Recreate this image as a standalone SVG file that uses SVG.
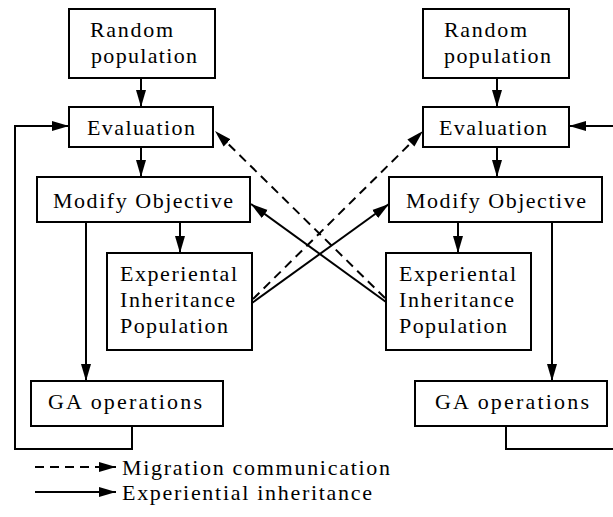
<svg xmlns="http://www.w3.org/2000/svg" width="613" height="517" viewBox="0 0 613 517">
<style>
.box{fill:#fff;stroke:#000;stroke-width:2}
.t{font-family:"Liberation Serif","Times New Roman",serif;font-size:22px;fill:#000}
.ln{fill:none;stroke:#000;stroke-width:2}
.ds{fill:none;stroke:#000;stroke-width:2;stroke-dasharray:9 6}
</style>
<defs>
<marker id="ah" markerUnits="userSpaceOnUse" markerWidth="18" markerHeight="11" refX="17" refY="5.5" orient="auto">
<path d="M0,0.5 L17,5.5 L0,10.5 z" fill="#000"/>
</marker>
</defs>
<rect width="613" height="517" fill="#fff"/>
<g id="connectors">
<line class="ln" x1="141" y1="78" x2="141" y2="107" marker-end="url(#ah)"/>
<line class="ln" x1="141" y1="147" x2="141" y2="177" marker-end="url(#ah)"/>
<line class="ln" x1="180" y1="222" x2="180" y2="253" marker-end="url(#ah)"/>
<line class="ln" x1="86" y1="222" x2="86" y2="381" marker-end="url(#ah)"/>
<polyline class="ln" points="132,426 132,449 15,449 15,126 69,126" marker-end="url(#ah)"/>
<line class="ln" x1="497" y1="78" x2="497" y2="107" marker-end="url(#ah)"/>
<line class="ln" x1="497" y1="147" x2="497" y2="177" marker-end="url(#ah)"/>
<line class="ln" x1="458" y1="222" x2="458" y2="253" marker-end="url(#ah)"/>
<line class="ln" x1="552" y1="222" x2="552" y2="381" marker-end="url(#ah)"/>
<polyline class="ln" points="506,426 506,449 614,449"/>
<line class="ln" x1="614" y1="126" x2="569" y2="126" marker-end="url(#ah)"/>
<line class="ds" x1="385" y1="298" x2="215" y2="131" marker-end="url(#ah)"/>
<line class="ln" x1="386" y1="302" x2="251" y2="204" marker-end="url(#ah)"/>
<line class="ds" x1="253" y1="299" x2="423" y2="131" marker-end="url(#ah)"/>
<line class="ln" x1="252" y1="303" x2="389" y2="204" marker-end="url(#ah)"/>
<line class="ds" x1="35" y1="467" x2="116" y2="467" marker-end="url(#ah)"/>
<line class="ln" x1="35" y1="492" x2="116" y2="492" marker-end="url(#ah)"/>
</g>
<g id="l-random"><rect class="box" x="69" y="9" width="146" height="69"/>
<text class="t" x="90" y="37" textLength="83" lengthAdjust="spacing">Random</text>
<text class="t" x="91" y="63" textLength="106" lengthAdjust="spacing">population</text></g>
<g id="l-eval"><rect class="box" x="69" y="107" width="144" height="40"/>
<text class="t" x="87" y="135" textLength="108" lengthAdjust="spacing">Evaluation</text></g>
<g id="l-modify"><rect class="box" x="37" y="177" width="213" height="45"/>
<text class="t" x="53" y="208" textLength="180" lengthAdjust="spacing">Modify Objective</text></g>
<g id="l-eip"><rect class="box" x="107" y="253" width="145" height="97"/>
<text class="t" x="120" y="281" textLength="117" lengthAdjust="spacing">Experiental</text>
<text class="t" x="120" y="307" textLength="115" lengthAdjust="spacing">Inheritance</text>
<text class="t" x="120" y="333" textLength="108" lengthAdjust="spacing">Population</text></g>
<g id="l-ga"><rect class="box" x="31" y="381" width="192" height="45"/>
<text class="t" x="48" y="409" textLength="154" lengthAdjust="spacing">GA operations</text></g>
<g id="r-random"><rect class="box" x="423" y="9" width="146" height="69"/>
<text class="t" x="444" y="37" textLength="83" lengthAdjust="spacing">Random</text>
<text class="t" x="444" y="63" textLength="107" lengthAdjust="spacing">population</text></g>
<g id="r-eval"><rect class="box" x="423" y="107" width="146" height="40"/>
<text class="t" x="439" y="135" textLength="108" lengthAdjust="spacing">Evaluation</text></g>
<g id="r-modify"><rect class="box" x="389" y="177" width="213" height="45"/>
<text class="t" x="406" y="208" textLength="180" lengthAdjust="spacing">Modify Objective</text></g>
<g id="r-eip"><rect class="box" x="386" y="253" width="145" height="97"/>
<text class="t" x="399" y="281" textLength="117" lengthAdjust="spacing">Experiental</text>
<text class="t" x="399" y="307" textLength="115" lengthAdjust="spacing">Inheritance</text>
<text class="t" x="399" y="333" textLength="108" lengthAdjust="spacing">Population</text></g>
<g id="r-ga"><rect class="box" x="415" y="381" width="192" height="45"/>
<text class="t" x="435" y="409" textLength="154" lengthAdjust="spacing">GA operations</text></g>
<g id="legend">
<text class="t" x="122" y="475" textLength="268" lengthAdjust="spacing">Migration communication</text>
<text class="t" x="122" y="500" textLength="250" lengthAdjust="spacing">Experiential inheritance</text>
</g>
</svg>
